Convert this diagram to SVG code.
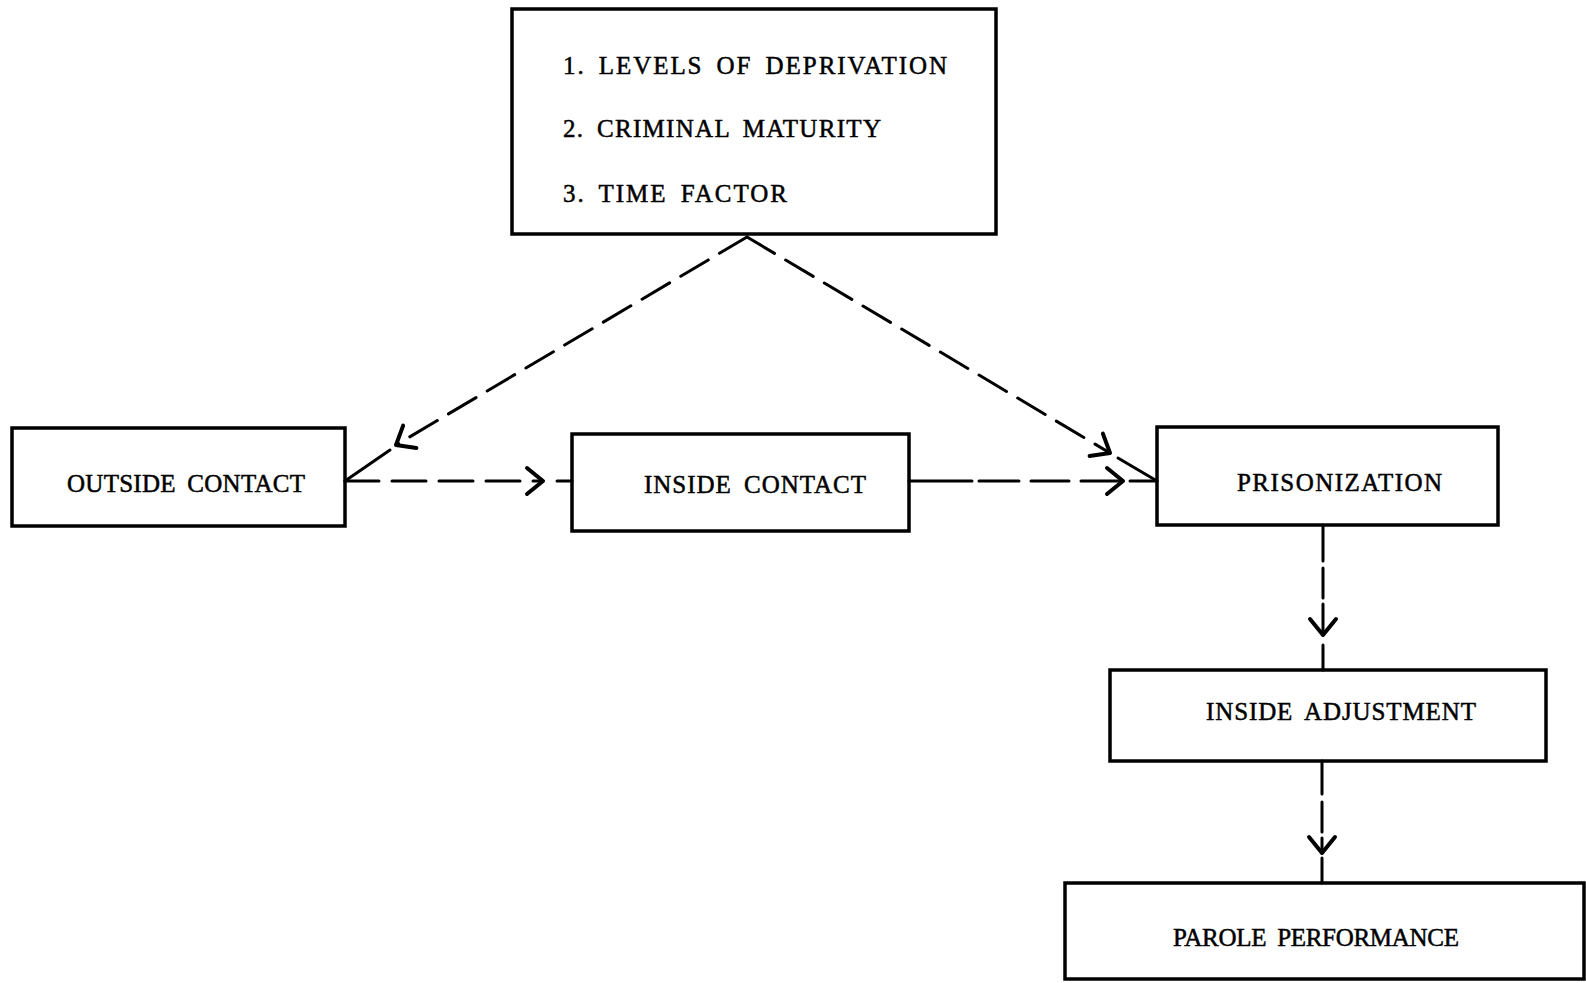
<svg xmlns="http://www.w3.org/2000/svg" width="1586" height="983" viewBox="0 0 1586 983">
<style>
.box{fill:#fff;stroke:#000;stroke-width:3.5}
.lbl{font-family:"Liberation Serif","DejaVu Serif",serif;font-size:25px;word-spacing:5px;fill:#000;stroke:#000;stroke-width:0.5}
.dash{fill:none;stroke:#000;stroke-width:3;stroke-dasharray:32 13;stroke-linecap:round}
.solid{fill:none;stroke:#000;stroke-width:3;stroke-linecap:round}
.head{fill:none;stroke:#000;stroke-width:4;stroke-linecap:round;stroke-linejoin:round}
</style>
<defs>
<marker id="arr" markerUnits="userSpaceOnUse" markerWidth="40" markerHeight="40" viewBox="-20 -20 40 40" refX="0" refY="0" orient="auto">
<path d="M -16 -13 L 0 0 L -16 13" class="head"/>
</marker>
</defs>
<rect width="1586" height="983" fill="#fff"/>

<g id="factors">
<rect class="box" x="512" y="9" width="484" height="225"/>
<text class="lbl" x="563" y="74" textLength="384" lengthAdjust="spacing">1. LEVELS OF DEPRIVATION</text>
<text class="lbl" x="563" y="137" textLength="318" lengthAdjust="spacing">2. CRIMINAL MATURITY</text>
<text class="lbl" x="563" y="202" textLength="224" lengthAdjust="spacing">3. TIME FACTOR</text>
</g>

<g id="outside-contact">
<rect class="box" x="12" y="428" width="333" height="98"/>
<text class="lbl" x="67" y="492" textLength="238" lengthAdjust="spacing">OUTSIDE CONTACT</text>
</g>

<g id="inside-contact">
<rect class="box" x="572" y="434" width="337" height="97"/>
<text class="lbl" x="644" y="493" textLength="222" lengthAdjust="spacing">INSIDE CONTACT</text>
</g>

<g id="prisonization">
<rect class="box" x="1157" y="427" width="341" height="98"/>
<text class="lbl" x="1237" y="491" textLength="205" lengthAdjust="spacing">PRISONIZATION</text>
</g>

<g id="inside-adjustment">
<rect class="box" x="1110" y="670" width="436" height="91"/>
<text class="lbl" x="1206" y="720" textLength="270" lengthAdjust="spacing">INSIDE ADJUSTMENT</text>
</g>

<g id="parole-performance">
<rect class="box" x="1065" y="883" width="519" height="96"/>
<text class="lbl" x="1173" y="946" textLength="286" lengthAdjust="spacing">PAROLE PERFORMANCE</text>
</g>

<g id="connectors">
<!-- factors -> outside contact -->
<path class="dash" d="M 747 237 L 396 445" marker-end="url(#arr)"/>
<path class="solid" d="M 390 450 L 345 481"/>
<!-- factors -> prisonization -->
<path class="dash" d="M 747 237 L 1110 453" marker-end="url(#arr)"/>
<path class="solid" d="M 1118 458 L 1157 481"/>
<!-- outside -> inside contact -->
<path class="dash" d="M 345 481 L 543 481" style="stroke-dasharray:34 13" marker-end="url(#arr)"/>
<path class="solid" d="M 557 481 L 572 481"/>
<!-- inside contact -> prisonization -->
<path class="dash" d="M 909 481 L 1123 481" style="stroke-dasharray:63 7 40 12 38 12 44" marker-end="url(#arr)"/>
<path class="solid" d="M 1130 481 L 1157 481"/>
<!-- prisonization -> inside adjustment -->
<path class="dash" d="M 1323 525 L 1323 635" style="stroke-dasharray:36 7 30 6" marker-end="url(#arr)"/>
<path class="solid" d="M 1323 645 L 1323 670"/>
<!-- inside adjustment -> parole -->
<path class="dash" d="M 1322 761 L 1322 853" style="stroke-dasharray:33 8 30 6" marker-end="url(#arr)"/>
<path class="solid" d="M 1322 858 L 1322 883"/>
</g>
</svg>
